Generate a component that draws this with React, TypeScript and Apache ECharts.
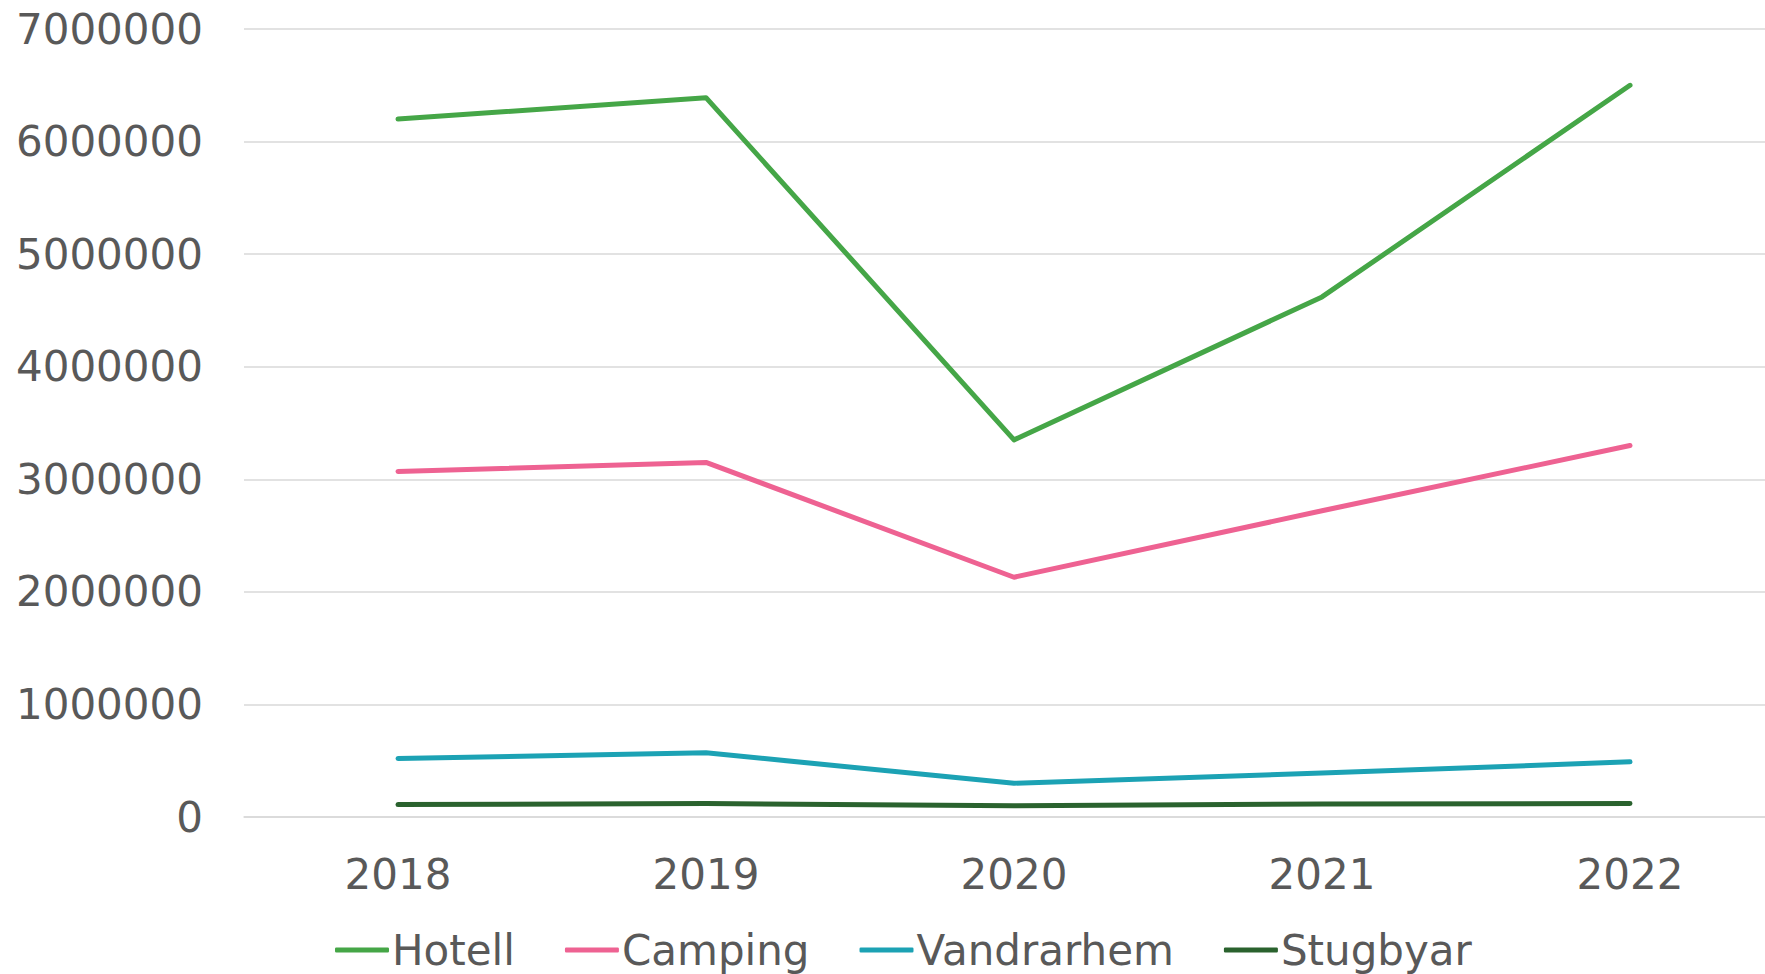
import React, { useEffect, useRef } from "react";
import * as echarts from "echarts";

const years = ["2018", "2019", "2020", "2021", "2022"];
const hotell = [6200000, 6390000, 3350000, 4620000, 6500000];
const camping = [3070000, 3150000, 2130000, 2720000, 3300000];
const vandrarhem = [520000, 570000, 300000, 390000, 490000];
const stugbyar = [110000, 120000, 100000, 115000, 120000];

const seriesNames = ["Hotell", "Camping", "Vandrarhem", "Stugbyar"];
const seriesData = [hotell, camping, vandrarhem, stugbyar];
const colors = ["#45A647", "#EE6292", "#1CA2B4", "#2A622E"];

const FONT = "'DejaVu Sans', Verdana, sans-serif";
const TEXT = "#595959";

export default function App() {
  const ref = useRef<HTMLDivElement>(null);
  useEffect(() => {
    if (!ref.current) return;
    const chart = echarts.init(ref.current, null, { renderer: "svg" });
    chart.setOption({
      animation: false,
      color: colors,
      grid: {
        left: 244,
        right: -19,
        top: 29,
        bottom: 157,
        containLabel: false,
        outerBoundsMode: "none",
      },
      legend: {
        left: 330,
        top: 924,
        itemWidth: 54,
        itemHeight: 5,
        itemGap: 50,
        icon: "roundRect",
        textStyle: { fontFamily: FONT, fontSize: 42, color: TEXT, padding: [0, 0, 0, -2] },
        data: seriesNames,
      },
      xAxis: {
        type: "category",
        data: years,
        boundaryGap: true,
        axisLine: { show: true, lineStyle: { color: "#D9D9D9", width: 1.5 } },
        axisTick: { show: false },
        axisLabel: { fontFamily: FONT, fontSize: 42, color: TEXT, margin: 36 },
      },
      yAxis: {
        type: "value",
        min: 0,
        max: 7000000,
        interval: 1000000,
        axisLine: { show: false },
        axisTick: { show: false },
        splitLine: { lineStyle: { color: "#D9D9D9", width: 1.5 } },
        axisLabel: {
          fontFamily: FONT,
          fontSize: 42,
          color: TEXT,
          margin: 41,
          formatter: (v: number) => String(v),
        },
      },
      series: seriesNames.map((name, i) => ({
        name,
        type: "line",
        data: seriesData[i],
        symbol: "none",
        lineStyle: { width: 5, color: colors[i], cap: "round", join: "round" },
        itemStyle: { color: colors[i] },
      })),
    });
    return () => chart.dispose();
  }, []);
  return (
    <div
      ref={ref}
      style={{ position: "fixed", left: 0, top: 0, width: 1765, height: 974, background: "#fff" }}
    />
  );
}
